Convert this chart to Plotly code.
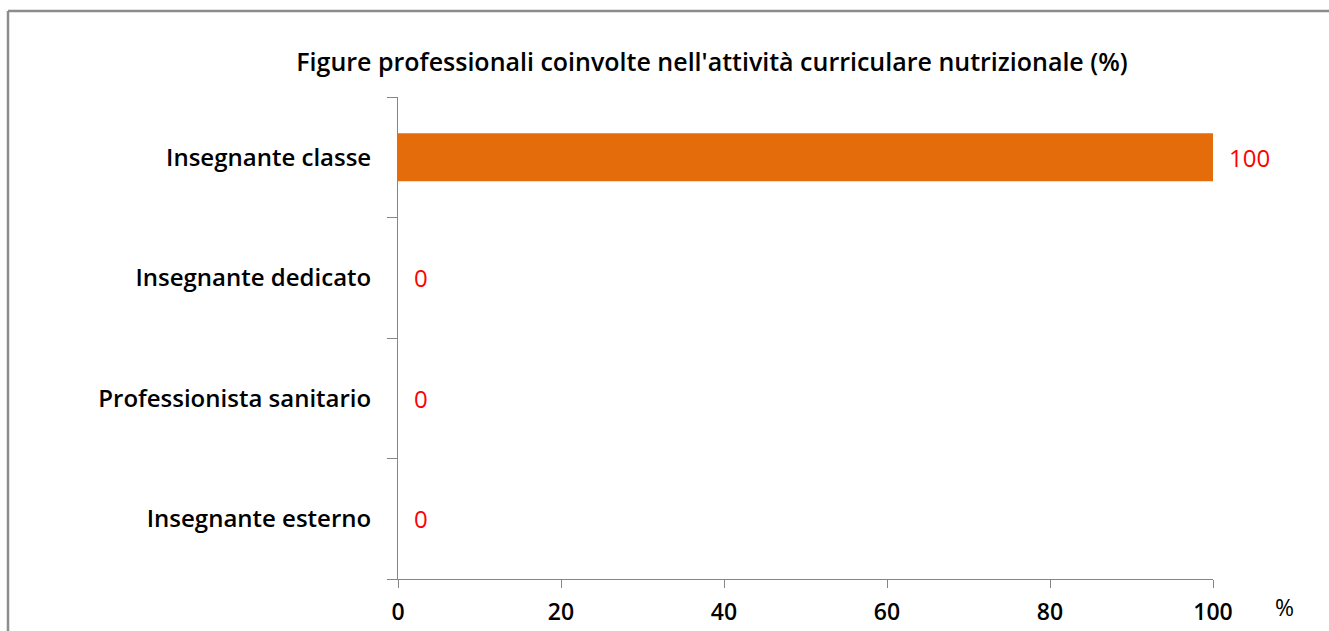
import plotly.graph_objects as go

categories = ["Insegnante classe", "Insegnante dedicato", "Professionista sanitario", "Insegnante esterno"]
values = [100, 0, 0, 0]
x_ticks = [0, 20, 40, 60, 80, 100]
title_text = "Figure professionali coinvolte nell'attività curriculare nutrizionale (%)"
unit_label = "%"

FONT = "Open Sans"
AXIS_COLOR = "#868686"

fig = go.Figure()
fig.add_trace(go.Bar(
    x=values, y=categories, orientation="h",
    marker=dict(color="#E46C0A", line=dict(width=0)),
    width=0.4, hoverinfo="skip",
))

for v, c in zip(values, categories):
    fig.add_annotation(x=v, y=c, xref="x", yref="y", text=str(v), showarrow=False,
                       xanchor="left", yanchor="middle", xshift=14,
                       font=dict(family=FONT, size=24, color="#FF0000"))

fig.add_annotation(x=1.0, y=0, xref="paper", yref="paper", text=unit_label, showarrow=False,
                   xanchor="left", yanchor="top", xshift=60, yshift=-10,
                   font=dict(family=FONT, size=23, color="#000000"))

# outer chart border (top and left)
W, H = 1329, 631
L, R, T, B = 398, 116, 97, 52
pw, ph = W - L - R, H - T - B
def px(xp):
    return (xp - L) / pw
def py(yp):
    return (H - B - yp) / ph
fig.add_shape(type="line", xref="paper", yref="paper", x0=px(8), x1=px(1340), y0=py(11), y1=py(11),
              line=dict(color="#8C8C8C", width=2.5))
fig.add_shape(type="line", xref="paper", yref="paper", x0=px(8), x1=px(8), y0=py(11), y1=py(640),
              line=dict(color="#8C8C8C", width=2.5))

fig.update_layout(
    template="none",
    width=W, height=H, autosize=False,
    margin=dict(l=L, r=R, t=T, b=B, autoexpand=False),
    paper_bgcolor="white", plot_bgcolor="white",
    showlegend=False,
    title=dict(text=title_text, x=(712) / W, xanchor="center", y=1 - 62 / H, yanchor="middle",
               font=dict(family=FONT, size=25, color="#000000", weight=600)),
    xaxis=dict(range=[0, 100], tickvals=x_ticks, ticks="outside", ticklen=8, tickcolor=AXIS_COLOR,
               showline=True, linecolor=AXIS_COLOR, linewidth=1, showgrid=False, zeroline=False,
               automargin=False,
               tickfont=dict(family=FONT, size=23, color="#000000", weight=600),
               ticklabelstandoff=4),
    yaxis=dict(categoryorder="array", categoryarray=categories[::-1], tickson="boundaries",
               ticks="outside", ticklen=10, tickcolor=AXIS_COLOR,
               showline=True, linecolor=AXIS_COLOR, linewidth=1, showgrid=False, zeroline=False,
               automargin=False,
               tickfont=dict(family=FONT, size=24, color="#000000", weight=600),
               ticklabelstandoff=21),
)

fig.write_html("out.html", config={"displayModeBar": False},
               post_script="document.body.style.margin='0';document.body.style.overflow='hidden';")
